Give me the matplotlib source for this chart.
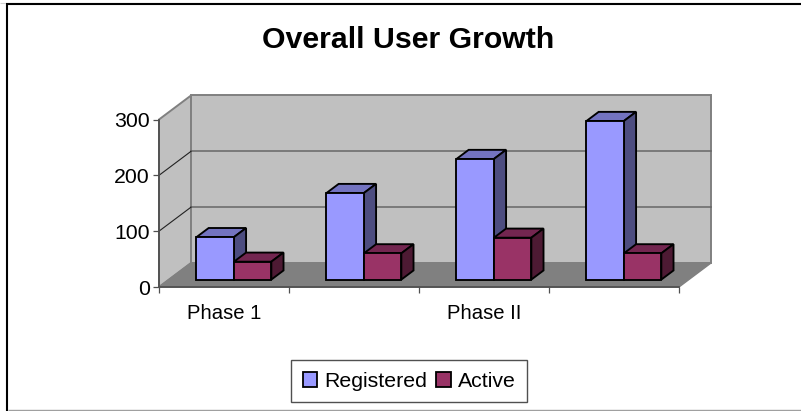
import numpy as np
import matplotlib
matplotlib.use("Agg")
import matplotlib.pyplot as plt
from matplotlib.lines import Line2D
from matplotlib.patches import Patch

plt.rcParams['font.family'] = ['Liberation Sans', 'DejaVu Sans']

categories = ["Phase 1", "", "Phase II", ""]
registered = [76, 155, 216, 284]
active = [32, 47, 75, 47]
y_ticks = [0, 100, 200, 300]
series_names = ["Registered", "Active"]

W, H = 801, 411
# front plane of the plot in pixels
left, right, top, bottom = 159, 679, 119.5, 287

fig = plt.figure(figsize=(W / 100, H / 100), dpi=100)
fig.patch.set_facecolor("white")


def fig_line(xs, ys, color, lw):
    # page border, given in pixels from the top left
    fig.add_artist(Line2D([x / W for x in xs], [1 - y / H for y in ys], transform=fig.transFigure,
                          color=color, linewidth=lw, solid_capstyle="butt"))


# the frame has no right side in the reference
fig_line([0, W], [3, 3], "#D0D0D0", 0.8)
fig_line([6, W], [4.5, 4.5], "black", 1.5)
fig_line([7, 7], [3.7, H], "black", 1.5)
fig_line([8, W], [410, 410], "#A0A0A0", 1.0)

ax = fig.add_axes([left / W, 1 - bottom / H, (right - left) / W, (bottom - top) / H])
ax.set_xlim(0, len(categories))
ax.set_ylim(0, 300)
ax.patch.set_visible(False)

# oblique depth: how far the back wall sits from the front plane, in data units
depth_x = 32 / (right - left) * len(categories)
depth_y = 24 / (bottom - top) * 300


def box(x0, x1, h, d0, d1, face, tops, side):
    # front, side and top faces of one 3d looking bar
    ox0, oy0 = d0 * depth_x, d0 * depth_y
    ox1, oy1 = d1 * depth_x, d1 * depth_y
    lw = 1.35
    ax.fill([x0 + ox0, x1 + ox0, x1 + ox1, x0 + ox1],
            [h + oy0, h + oy0, h + oy1, h + oy1],
            facecolor=tops, edgecolor="black", linewidth=lw, clip_on=False, zorder=3, joinstyle="miter")
    ax.fill([x1 + ox0, x1 + ox1, x1 + ox1, x1 + ox0],
            [oy0, oy1, h + oy1, h + oy0],
            facecolor=side, edgecolor="black", linewidth=lw, clip_on=False, zorder=3, joinstyle="miter")
    ax.fill([x0 + ox0, x1 + ox0, x1 + ox0, x0 + ox0],
            [oy0, oy0, h + oy0, h + oy0],
            facecolor=face, edgecolor="black", linewidth=lw, clip_on=False, zorder=3, joinstyle="miter")


n = len(categories)
wall_c = "#C0C0C0"
wall_e = "#808080"
# left wall
ax.fill([0, depth_x, depth_x, 0], [0, depth_y, 300 + depth_y, 300],
        facecolor=wall_c, edgecolor=wall_e, linewidth=1.4, clip_on=False, zorder=1)
# back wall
ax.fill([depth_x, n + depth_x, n + depth_x, depth_x], [depth_y, depth_y, 300 + depth_y, 300 + depth_y],
        facecolor=wall_c, edgecolor=wall_e, linewidth=1.4, clip_on=False, zorder=1)
# floor
ax.fill([0, n, n + depth_x, depth_x], [0, 0, depth_y, depth_y],
        facecolor="#808080", edgecolor="#808080", linewidth=1.0, clip_on=False, zorder=1)
# gridlines
for v in y_ticks[1:-1]:
    ax.plot([depth_x, n + depth_x], [v + depth_y, v + depth_y], color="#666666", linewidth=1.1,
            clip_on=False, zorder=2)
    ax.plot([0, depth_x], [v, v + depth_y], color="#222222", linewidth=0.8, clip_on=False, zorder=2)

bar_w = 0.288
margin = (1 - 2 * bar_w) / 2
for i in range(n):
    x0 = i + margin
    box(x0, x0 + bar_w, registered[i], 0.31, 0.69, "#9999FF", "#7373C0", "#4D4D80")
    box(x0 + bar_w, x0 + 2 * bar_w, active[i], 0.31, 0.69, "#993366", "#732650", "#4D1A33")

for s in ["top", "right"]:
    ax.spines[s].set_visible(False)
for s in ["left", "bottom"]:
    ax.spines[s].set_color("#505050")
    ax.spines[s].set_linewidth(1.3)
    ax.spines[s].set_zorder(2.5)

ax.set_yticks(y_ticks)
ax.set_xticks(np.arange(n + 1))
ax.set_xticklabels([])
ax.set_xticks(np.arange(n) + 0.5, labels=categories, minor=True)
ax.tick_params(axis="x", which="major", length=4.3, width=0.9, color="#505050")
ax.tick_params(axis="x", which="minor", length=0, pad=12, labelsize=14.6)
ax.tick_params(axis="y", length=4.3, width=0.9, color="#505050", pad=2.5, labelsize=15.3)

fig.text(408.5 / W, 1 - 40 / H, "Overall User Growth", ha="center", va="center",
         fontsize=21.8, fontweight="bold", color="black")

handles = [Patch(facecolor="#9999FF", edgecolor="black", linewidth=1.3),
           Patch(facecolor="#993366", edgecolor="black", linewidth=1.3)]
leg = fig.legend(handles, series_names, loc="center", bbox_to_anchor=(409 / W, 1 - 381 / H),
                 ncol=2, fontsize=15.3, frameon=True, fancybox=False, edgecolor="#505050",
                 handlelength=0.7, handleheight=0.7, handletextpad=0.3, columnspacing=0.45,
                 borderpad=0.55, borderaxespad=0, framealpha=1)
leg.get_frame().set_linewidth(1.0)

fig.savefig("out.png", dpi=100)
